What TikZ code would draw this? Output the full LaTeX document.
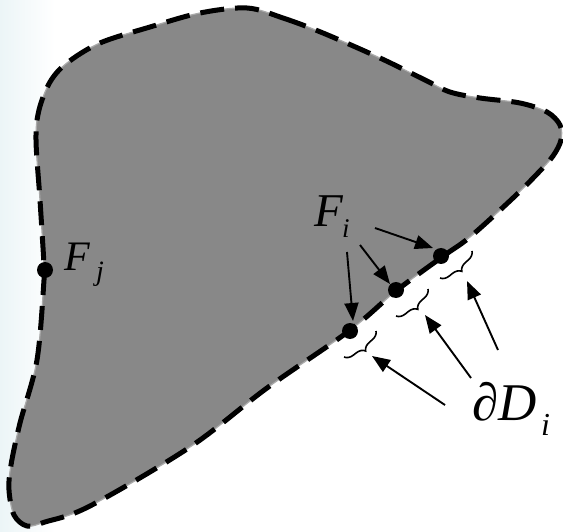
\documentclass[tikz,border=0pt]{standalone}
\usepackage{fontspec}
\setmainfont{Liberation Serif}
\usetikzlibrary{arrows.meta,decorations.pathreplacing}
\definecolor{shapegray}{RGB}{136,136,136}
\definecolor{edgegray}{RGB}{170,170,170}
\definecolor{bgtint}{RGB}{236,245,247}
\tikzset{
  dot/.style={circle,fill=black,inner sep=0pt,minimum size=16pt},
  lbl/.style={anchor=base west,inner sep=0pt,outer sep=0pt},
  ptr/.style={line width=1.9pt,-{Triangle[length=18pt,width=14pt]}},
  bracemark/.style={line width=1.6pt,decorate,decoration={brace,amplitude=9pt}},
  boundary/.style={line width=5pt,dash pattern=on 24pt off 11pt}
}
\begin{document}
\begin{tikzpicture}[x=1pt,y=-1pt]
\useasboundingbox (0,0) rectangle (563,532);
\shade[left color=bgtint,right color=white] (0,0) rectangle (55,532);
\fill[white] (55,0) rectangle (563,532);
\def\outline{plot[smooth cycle,tension=0.55] coordinates {
 (247,8) (283,18) (323,33) (380,58) (425,80) (450,92) (480,98) (520,103)
 (547,112) (560,125) (561,140) (553,156) (538,173) (513,198) (470,237)
 (442,257) (396,291) (349,331) (267,388) (190,447) (90,506) (45,522)
 (27,526) (14,515) (9,490) (11,465) (20,423) (37,360) (44,280) (44,265)
 (40,200) (36,140) (39,110) (50,82) (67,63) (100,43) (150,27) (200,13)}}
\fill[shapegray] \outline;
\draw[edgegray,line width=1.2pt] \outline;
\draw[boundary] \outline;
% dots
\node[dot] (fj) at (45,270) {};
\node[dot] (d1) at (350,331) {};
\node[dot] (d2) at (396,290) {};
\node[dot] (d3) at (441,256) {};
% labels
\node[lbl] (Fj) at (64,270) {\fontsize{42}{42}\selectfont\itshape F};
\node[lbl] (Fjs) at (96,280) {\fontsize{28}{28}\selectfont\itshape j};
\node[lbl] (Fi) at (314,227) {\fontsize{47}{47}\selectfont\itshape F};
\node[lbl] (Fis) at (342,238) {\fontsize{27}{27}\selectfont\itshape i};
\node[lbl] (dD) at (472,420) {\fontsize{53}{53}\selectfont ∂\itshape D};
\node[lbl] (dDs) at (541,435) {\fontsize{32}{32}\selectfont\itshape i};
% braces
\coordinate (b1a) at (376,331); \coordinate (b1b) at (344,357);
\coordinate (b2a) at (428,289); \coordinate (b2b) at (396,316);
\coordinate (b3a) at (472,251); \coordinate (b3b) at (440,278);
\draw[bracemark] (b1a) -- (b1b);
\draw[bracemark] (b2a) -- (b2b);
\draw[bracemark] (b3a) -- (b3b);
% F_i arrows
\coordinate (a1s) at (375,228); \coordinate (a1e) at (433,248);
\coordinate (a2s) at (360,245); \coordinate (a2e) at (390,284);
\coordinate (a3s) at (347,252); \coordinate (a3e) at (353,321);
\draw[ptr] (a1s) -- (a1e);
\draw[ptr] (a2s) -- (a2e);
\draw[ptr] (a3s) -- (a3e);
% dD arrows
\coordinate (c1s) at (445,405); \coordinate (c1e) at (372,356);
\coordinate (c2s) at (471,378); \coordinate (c2e) at (425,315);
\coordinate (c3s) at (498,350); \coordinate (c3e) at (467,281);
\draw[ptr] (c1s) -- (c1e);
\draw[ptr] (c2s) -- (c2e);
\draw[ptr] (c3s) -- (c3e);
\end{tikzpicture}
\end{document}
